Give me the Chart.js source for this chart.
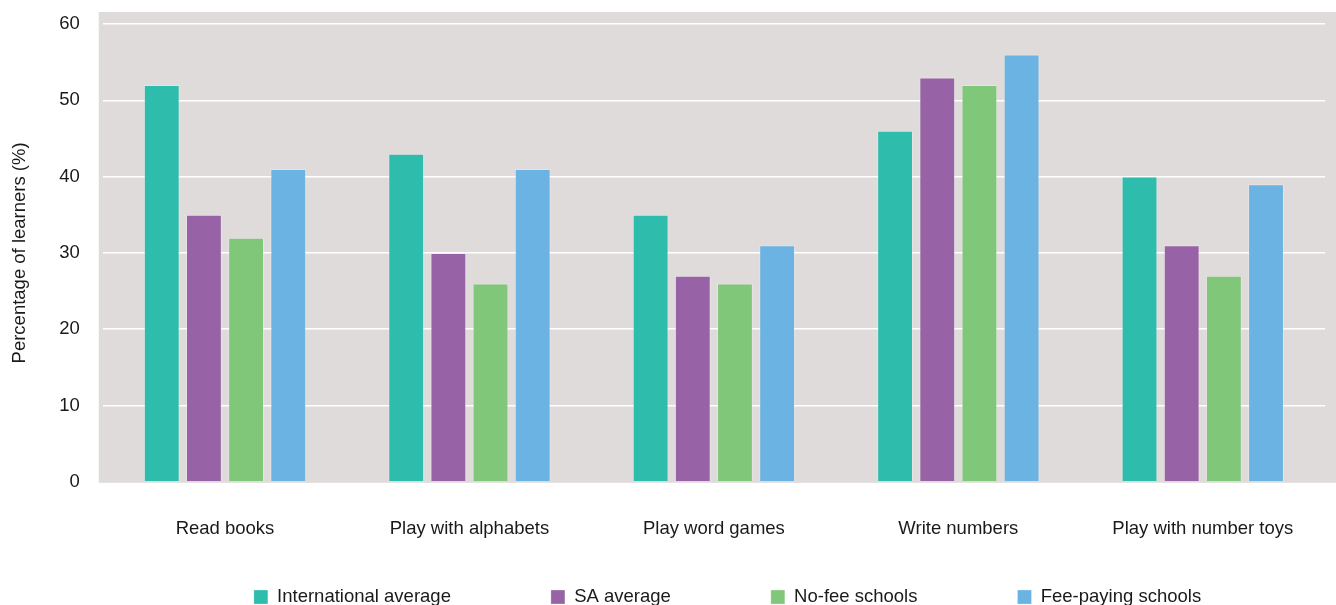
<!DOCTYPE html>
<html>
<head>
<meta charset="utf-8">
<style>
  html, body { margin: 0; padding: 0; background: #ffffff; }
  #wrap { width: 1336px; height: 605px; }
</style>
<script src="https://cdn.jsdelivr.net/npm/chart.js@4"></script>
</head>
<body>
<div id="wrap"><canvas id="chart"></canvas></div>
<script>
// ------------------------------------------------------------
//  Early learning activities at home
// ------------------------------------------------------------

const categories = ['Read books', 'Play with alphabets', 'Play word games', 'Write numbers', 'Play with number toys'];
const seriesNames = ['International average', 'SA average', 'No-fee schools', 'Fee-paying schools'];

const internationalAvg = [52, 43, 35, 46, 40];
const saAvg            = [35, 30, 27, 53, 31];
const noFeeSchools     = [32, 26, 26, 52, 27];
const feePaying        = [41, 41, 31, 56, 39];

const yTicks = [0, 10, 20, 30, 40, 50, 60];

const _teal = '#2ebdac', _purple = '#9863a6', _green = '#80c77a', _blue = '#6ab3e2';
const _text = '#1a1a1a', _panel = '#dfdbda';
const FONT = 'Liberation Sans, Arial, Helvetica, sans-serif';

// grey panel behind the plot
const panelBg = {
  id: 'panelBg',
  beforeDraw(chart) {
    const { ctx, chartArea: a } = chart;
    ctx.save();
    ctx.fillStyle = _panel;
    ctx.fillRect(a.left - 4, a.top - 12, chart.width - a.left + 4, a.bottom - a.top + 13);
    ctx.restore();
  }
};

// legend sits low and a bit right of centre, with wide gaps
const legendPlace = {
  id: 'legendPlace',
  beforeLayout(chart) {
    const lg = chart.legend;
    if (lg && !lg._patched) {
      const fit = lg.fit;
      lg.fit = function () { fit.call(this); this.height = 29; };
      lg._patched = true;
    }
  },
  afterLayout(chart) {
    const lg = chart.legend;
    const pad = lg.options.labels.padding;
    const dx = 65;
    lg.left += dx; lg.right += dx;
    lg.top = 597 - pad - 9.25;
    lg.bottom = 605;
    lg.height = lg.bottom - lg.top;
  }
};

const mk = (label, data, color) => ({
  label, data,
  backgroundColor: color,
  borderColor: 'rgba(255,255,255,0.25)',
  borderWidth: 1,
  categoryPercentage: 0.69,
  barPercentage: 0.85
});

new Chart(document.getElementById('chart').getContext('2d'), {
  type: 'bar',
  data: {
    labels: categories,
    datasets: [
      mk(seriesNames[0], internationalAvg, _teal),
      mk(seriesNames[1], saAvg, _purple),
      mk(seriesNames[2], noFeeSchools, _green),
      mk(seriesNames[3], feePaying, _blue)
    ]
  },
  options: {
    responsive: true,
    maintainAspectRatio: false,
    animation: false,
    layout: { padding: { top: 24, right: 11, left: 0, bottom: 0 } },
    plugins: {
      tooltip: { enabled: false },
      legend: {
        position: 'bottom',
        labels: {
          color: _text,
          font: { family: FONT, size: 18.5 },
          boxWidth: 14, boxHeight: 14,
          padding: 100
        }
      }
    },
    scales: {
      x: {
        grid: { display: false, drawTicks: false },
        border: { display: false },
        ticks: { color: _text, font: { family: FONT, size: 18.5 }, padding: 36, maxRotation: 0 }
      },
      y: {
        min: 0, max: 60,
        afterBuildTicks: s => { s.ticks = yTicks.map(v => ({ value: v })); },
        // tick padding should not push the plot down from the top
        afterFit: s => { s.paddingTop = 12; s.paddingBottom = 12; },
        grid: {
          drawTicks: false,
          lineWidth: 1.5,
          color: c => c.tick && c.tick.value === 0 ? 'rgba(0,0,0,0)' : '#ffffff'
        },
        border: { display: false },
        ticks: { color: _text, font: { family: FONT, size: 18.5 }, padding: 23 },
        title: {
          display: true,
          text: 'Percentage of learners (%)',
          color: _text,
          font: { family: FONT, size: 18.5 },
          padding: { top: 9, bottom: 5 }
        }
      }
    }
  },
  plugins: [panelBg, legendPlace]
});
</script>
</body>
</html>
